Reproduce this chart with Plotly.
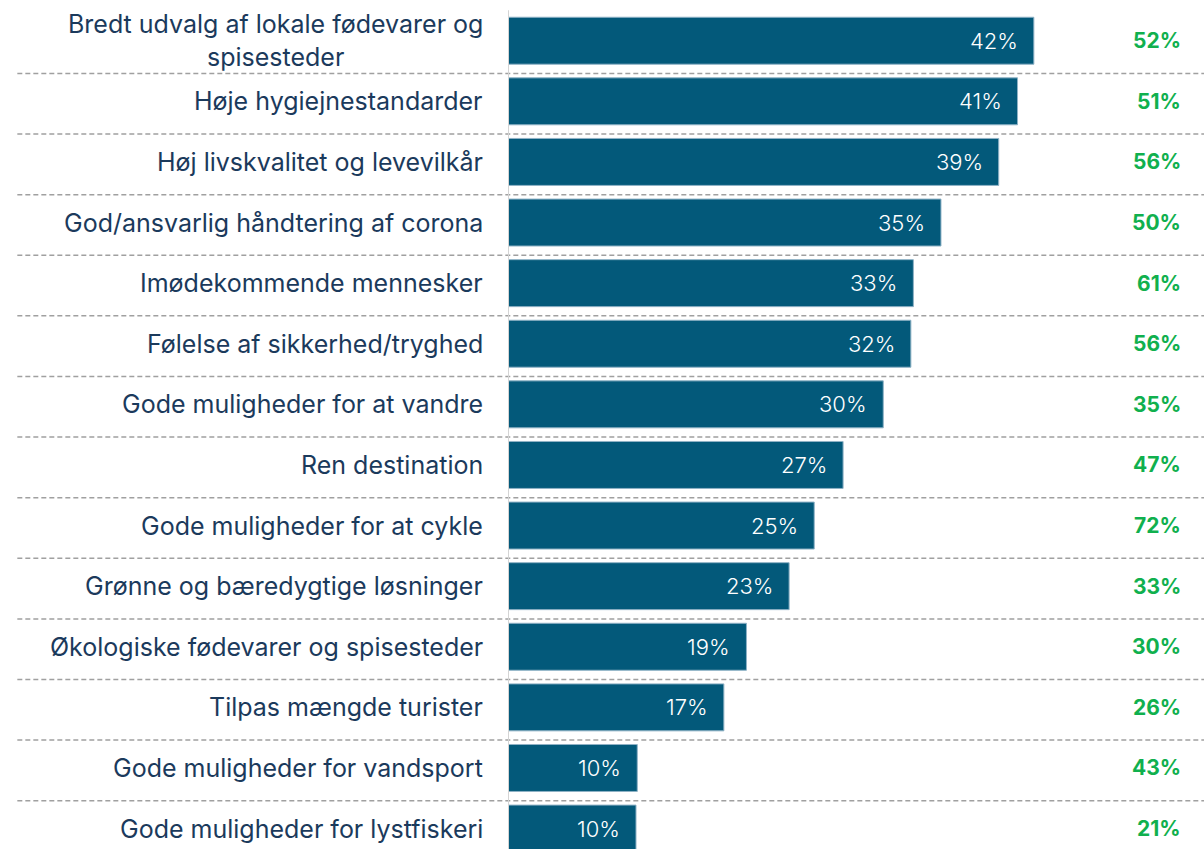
import plotly.graph_objects as go

# survey items, top to bottom
items = [
    "Bredt udvalg af lokale fødevarer og<br>spisesteder",
    "Høje hygiejnestandarder",
    "Høj livskvalitet og levevilkår",
    "God/ansvarlig håndtering af corona",
    "Imødekommende mennesker",
    "Følelse af sikkerhed/tryghed",
    "Gode muligheder for at vandre",
    "Ren destination",
    "Gode muligheder for at cykle",
    "Grønne og bæredygtige løsninger",
    "Økologiske fødevarer og spisesteder",
    "Tilpas mængde turister",
    "Gode muligheder for vandsport",
    "Gode muligheder for lystfiskeri",
]
# bar lengths (unrounded shares)
share = [41.9, 40.6, 39.1, 34.5, 32.3, 32.1, 29.9, 26.7, 24.4, 22.4, 19.0, 17.2, 10.3, 10.2]
# printed labels
share_lbl = [42, 41, 39, 35, 33, 32, 30, 27, 25, 23, 19, 17, 10, 10]
# green column on the right
green_lbl = [52, 51, 56, 50, 61, 56, 35, 47, 72, 33, 30, 26, 43, 21]

FONT = "Inter, Lato, sans-serif"
NAVY = "#1b3a5c"
BAR = "#03597a"
GREEN = "#10b04e"

rows = list(range(len(items)))

fig = go.Figure(go.Bar(
    x=share, y=rows, orientation="h", width=0.775,
    marker=dict(color=BAR, line=dict(color="#8fb2c6", width=1)),
    hoverinfo="skip",
))

ann = []
for i, (name, v, s, g) in enumerate(zip(items, share, share_lbl, green_lbl)):
    ann.append(dict(x=0, xref="paper", y=i, yref="y", text=name, showarrow=False,
                    xanchor="right", align="center", xshift=-23,
                    font=dict(family=FONT, size=25, color=NAVY)))
    ann.append(dict(x=v, xref="x", y=i, yref="y", text=f"{s}%", showarrow=False,
                    xanchor="right", xshift=-14,
                    font=dict(family=FONT, size=22, color="white", weight=300)))
    ann.append(dict(x=1, xref="paper", y=i, yref="y", text=f"{g}%", showarrow=False,
                    xanchor="right", xshift=-21,
                    font=dict(family=FONT, size=21, color=GREEN, weight=700)))

shapes = []
for i in rows[:-1]:
    shapes.append(dict(type="line", xref="paper", x0=-0.705, x1=1.0, yref="y",
                       y0=i + 0.54, y1=i + 0.54,
                       line=dict(color="#a0a0a0", width=1.5, dash="5px,3px")))
shapes.append(dict(type="line", xref="x", x0=0, x1=0, yref="paper", y0=0, y1=0.988,
                   line=dict(color="#d4d4d4", width=2)))

fig.update_layout(
    width=1204, height=849,
    margin=dict(l=508, r=0, t=0, b=0),
    paper_bgcolor="white", plot_bgcolor="white",
    showlegend=False,
    xaxis=dict(range=[0, 696 / 12.55], visible=False, fixedrange=True),
    yaxis=dict(range=[13.337, -0.672], visible=False, fixedrange=True),
    annotations=ann, shapes=shapes,
)

fig.write_html("out.html", config={"displayModeBar": False},
               post_script="document.body.style.margin='0';")
